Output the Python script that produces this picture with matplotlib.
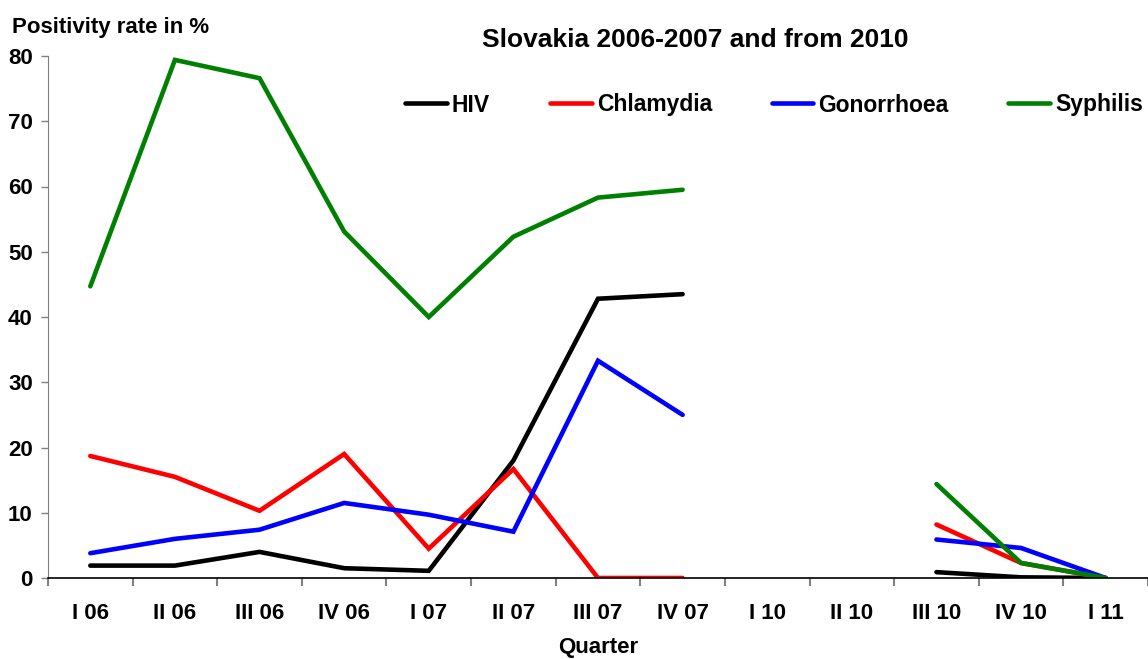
import numpy as np
import matplotlib
matplotlib.use("Agg")
import matplotlib.pyplot as plt

plt.rcParams['font.family'] = ['Liberation Sans', 'DejaVu Sans']
plt.rcParams['font.weight'] = 'bold'

quarters = ["I 06", "II 06", "III 06", "IV 06", "I 07", "II 07", "III 07", "IV 07",
            "I 10", "II 10", "III 10", "IV 10", "I 11"]
nan = np.nan
hiv = [1.9, 1.9, 4.0, 1.5, 1.1, 18.0, 42.8, 43.5, nan, nan, 0.9, 0.1, 0.0]
chlamydia = [18.7, 15.5, 10.3, 19.0, 4.5, 16.7, 0.0, 0.0, nan, nan, 8.2, 2.3, 0.0]
gonorrhoea = [3.8, 6.0, 7.4, 11.5, 9.7, 7.1, 33.3, 25.0, nan, nan, 5.9, 4.6, 0.0]
syphilis = [44.7, 79.4, 76.6, 53.1, 40.0, 52.3, 58.3, 59.5, nan, nan, 14.4, 2.3, 0.0]

series = [("HIV", hiv, "#000000"), ("Chlamydia", chlamydia, "#ff0000"),
          ("Gonorrhoea", gonorrhoea, "#0000ff"), ("Syphilis", syphilis, "#008000")]

fig = plt.figure(figsize=(11.48, 6.59), dpi=100)
ax = fig.add_axes([48/1148, (659-578)/659, 1 - 48/1148, (578-56)/659])

x = np.arange(len(quarters))
for name, vals, col in series:
    ax.plot(x, vals, color=col, lw=3.3, label=name, solid_capstyle='round', solid_joinstyle='miter')

ax.set_xlim(-0.5, (1148 - 90) / 85.4)
ax.set_ylim(0, 80)
ax.set_yticks(np.arange(0, 81, 10))
ax.set_xticks(x)
ax.set_xticklabels(quarters, fontsize=16, fontweight='bold')
ax.set_xticks(np.arange(-0.5, len(quarters), 1), minor=True)
ax.tick_params(axis='x', which='major', length=0, pad=18)
ax.tick_params(axis='x', which='minor', length=6, width=1.5, color='#808080', direction='out')
ax.tick_params(axis='y', length=5, width=1, color='#808080', labelsize=16, pad=6)
for lab in ax.get_yticklabels():
    lab.set_fontweight('bold')

ax.spines['top'].set_visible(False)
ax.spines['right'].set_visible(False)
ax.spines['left'].set_color('#808080')
ax.spines['bottom'].set_color('#000000')
ax.spines['bottom'].set_linewidth(1.2)

ax.set_xlabel("Quarter", fontsize=16, fontweight='bold', labelpad=9)
fig.text(12/1148, 1 - 27/659, "Positivity rate in %", fontsize=16, fontweight='bold',
         ha='left', va='center')
fig.text(695/1148, 1 - 40/659, "Slovakia 2006-2007 and from 2010", fontsize=19,
         fontweight='bold', ha='center', va='center')

leg = ax.legend(loc='center left', bbox_to_anchor=((405-48)/1100, (578-105)/522), ncol=4,
                frameon=False, handlelength=1.83, handletextpad=0.22,
                columnspacing=2.6, borderaxespad=0, borderpad=0,
                prop={'weight': 'bold', 'size': 16.5})
for line in leg.get_lines():
    line.set_linewidth(3.3)

fig.savefig("out.png", dpi=100)
